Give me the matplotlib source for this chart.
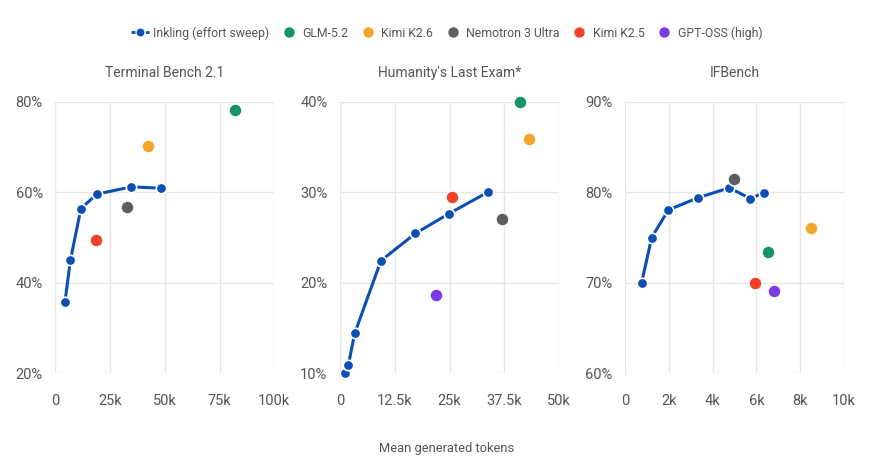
import matplotlib.pyplot as plt
import matplotlib.ticker as mticker
from matplotlib.lines import Line2D

plt.rcParams['font.family'] = ['Roboto', 'DejaVu Sans']

# Terminal Bench 2.1 (x in k tokens, y in %)
tb_sweep_x = [4.4, 6.9, 11.7, 19.0, 34.7, 48.4]
tb_sweep_y = [35.7, 45.0, 56.4, 59.6, 61.2, 60.9]
tb_models = {"GLM-5.2": (82.2, 78.1), "Kimi K2.6": (42.2, 70.3),
             "Nemotron 3 Ultra": (32.7, 56.7), "Kimi K2.5": (18.7, 49.5)}

# Humanity's Last Exam
hle_sweep_x = [1.1, 1.9, 3.35, 9.35, 17.2, 24.9, 33.7]
hle_sweep_y = [10.0, 10.9, 14.4, 22.45, 25.45, 27.65, 30.0]
hle_models = {"GLM-5.2": (41.0, 40.0), "Kimi K2.6": (43.1, 35.9),
              "Nemotron 3 Ultra": (37.0, 27.0), "Kimi K2.5": (25.5, 29.45),
              "GPT-OSS (high)": (21.9, 18.6)}

# IFBench
ifb_sweep_x = [0.76, 1.22, 1.98, 3.34, 4.77, 5.72, 6.34]
ifb_sweep_y = [70.0, 75.0, 78.05, 79.4, 80.5, 79.3, 79.95]
ifb_models = {"GLM-5.2": (6.54, 73.4), "Kimi K2.6": (8.5, 76.1),
              "Nemotron 3 Ultra": (4.97, 81.5), "Kimi K2.5": (5.94, 70.0),
              "GPT-OSS (high)": (6.8, 69.05)}

colors = {"Inkling (effort sweep)": "#0b4fb3", "GLM-5.2": "#14946c",
          "Kimi K2.6": "#f4a62a", "Nemotron 3 Ultra": "#5f5f5f",
          "Kimi K2.5": "#f2412b", "GPT-OSS (high)": "#7b3ae6"}

panels = [
    ("Terminal Bench 2.1", tb_sweep_x, tb_sweep_y, tb_models,
     [0, 25, 50, 75, 100], ["0", "25k", "50k", "75k", "100k"], [20, 40, 60, 80]),
    ("Humanity's Last Exam*", hle_sweep_x, hle_sweep_y, hle_models,
     [0, 12.5, 25, 37.5, 50], ["0", "12.5k", "25k", "37.5k", "50k"], [10, 20, 30, 40]),
    ("IFBench", ifb_sweep_x, ifb_sweep_y, ifb_models,
     [0, 2, 4, 6, 8, 10], ["0", "2k", "4k", "6k", "8k", "10k"], [60, 70, 80, 90]),
]

text_color = "#555555"
fig = plt.figure(figsize=(8.72, 4.69), dpi=100)
lefts = [0.0634, 0.3899, 0.7167]

for left, (title, sx, sy, models, xt, xtl, yt) in zip(lefts, panels):
    ax = fig.add_axes([left, 0.204, 0.2512, 0.579])
    ax.plot(sx, sy, color=colors["Inkling (effort sweep)"], lw=2.2, marker="o",
            ms=7.5, mec="white", mew=1.2, zorder=3, clip_on=False)
    for name, (x, y) in models.items():
        ax.plot([x], [y], marker="o", ms=9.5, color=colors[name], mec="white",
                mew=1.2, zorder=4, clip_on=False, ls="none")
    ax.set_xlim(xt[0], xt[-1])
    ax.set_ylim(yt[0], yt[-1])
    ax.set_xticks(xt)
    ax.set_xticklabels(xtl)
    ax.set_yticks(yt)
    ax.yaxis.set_major_formatter(mticker.FuncFormatter(lambda v, p: f"{v:.0f}%"))
    for s in ax.spines.values():
        s.set_visible(False)
    ax.grid(True, color="#e6e6e6", lw=1)
    ax.set_axisbelow(True)
    ax.tick_params(length=0, colors=text_color, labelsize=10.5)
    ax.tick_params(axis="x", pad=15)
    ax.tick_params(axis="y", pad=9)
    ax.set_title(title, color=text_color, fontsize=10, pad=17.5)

fig.text(0.512, 0.037, "Mean generated tokens", ha="center", color=text_color, fontsize=9.3)

handles = [Line2D([], [], color=colors["Inkling (effort sweep)"], lw=2, ls=(0, (1.6, 1.0)),
                  marker="o", ms=6.5, mec="white", mew=0.8)]
for name in ["GLM-5.2", "Kimi K2.6", "Nemotron 3 Ultra", "Kimi K2.5", "GPT-OSS (high)"]:
    handles.append(Line2D([], [], ls="none", marker="o", ms=6.5, color=colors[name]))
labels = ["Inkling (effort sweep)", "GLM-5.2", "Kimi K2.6", "Nemotron 3 Ultra",
          "Kimi K2.5", "GPT-OSS (high)"]
fig.legend(handles, labels, loc="center", bbox_to_anchor=(0.512, 0.93), ncol=6,
           frameon=False, fontsize=8.8, labelcolor=text_color, handlelength=1.5,
           handletextpad=0.35, columnspacing=0.85)

fig.savefig("out.png", dpi=100)
